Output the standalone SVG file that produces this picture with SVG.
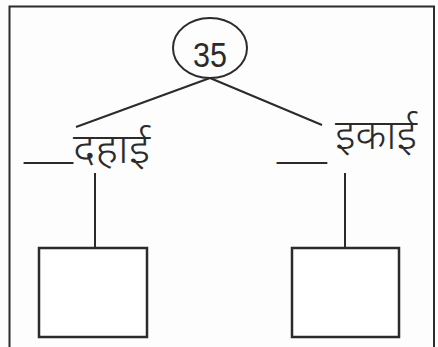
<svg xmlns="http://www.w3.org/2000/svg" width="438" height="347" viewBox="0 0 438 347">
<style>
.ln{stroke:#2b2b2b;stroke-width:2;fill:none}
.bx{stroke:#2b2b2b;stroke-width:2.5;fill:#fff}
.dv{font-family:"Noto Sans","Noto Sans Devanagari","Lohit Devanagari","FreeSans",sans-serif;font-size:42px;font-weight:300;fill:#2b2b2b}
.us{font-family:"Liberation Sans",Arial,sans-serif;font-size:32px;fill:#2b2b2b}
.num{font-family:"Liberation Sans",Arial,sans-serif;font-size:35px;fill:#2b2b2b}
</style>
<rect width="438" height="347" fill="#fdfdfd"/>
<path class="ln" d="M9.5,350 V6.5 H434 V350" stroke-width="2.5"/>
<g id="connectors">
<line class="ln" x1="210" y1="78" x2="76" y2="127"/>
<line class="ln" x1="210" y1="78" x2="322" y2="125"/>
<line class="ln" x1="95" y1="173" x2="95" y2="248"/>
<line class="ln" x1="345" y1="173" x2="345" y2="248"/>
</g>
<g id="root">
<ellipse class="ln" cx="210" cy="48" rx="37" ry="30"/>
<text class="num" x="210" y="67" text-anchor="middle" textLength="34" lengthAdjust="spacingAndGlyphs">35</text>
</g>
<g id="tens">
<text class="us" x="24" y="158" textLength="49" lengthAdjust="spacingAndGlyphs">___</text>
<text class="dv" x="73" y="163" textLength="77" lengthAdjust="spacingAndGlyphs">दहाई</text>
</g>
<g id="ones">
<text class="us" x="277" y="158" textLength="50" lengthAdjust="spacingAndGlyphs">___</text>
<text class="dv" x="335" y="149" textLength="82" lengthAdjust="spacingAndGlyphs">इकाई</text>
</g>
<g id="tens-box"><rect class="bx" x="39" y="248" width="108" height="89"/></g>
<g id="ones-box"><rect class="bx" x="292" y="248" width="107" height="89"/></g>
</svg>
